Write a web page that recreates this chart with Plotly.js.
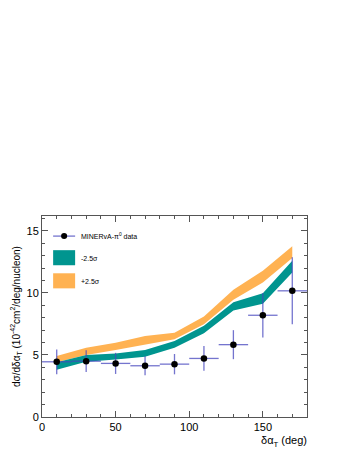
<!DOCTYPE html>
<html><head><meta charset="utf-8">
<script src="https://cdn.plot.ly/plotly-3.0.1.min.js"></script>
<style>html,body{margin:0;padding:0;background:#fff}#c{width:349px;height:451px}</style>
</head><body><div id="c"></div>
<script>
const xBins = [10, 30, 50, 70, 90, 110, 130, 150, 170];
const xHalfWidth = [10, 10, 10, 10, 10, 10, 10, 10, 10];
const dataY = [4.45, 4.5, 4.32, 4.13, 4.26, 4.72, 5.83, 8.2, 10.17];
const dataErr = [1.0, 0.87, 0.85, 0.77, 0.82, 1.0, 1.17, 1.8, 2.7];
const minusLow = [3.8, 4.45, 4.64, 4.86, 5.58, 6.76, 8.58, 9.12, 11.65];
const minusHigh = [4.42, 4.99, 5.12, 5.4, 6.12, 7.36, 9.25, 9.98, 12.6];
const plusLow = [4.42, 5.0, 5.39, 5.85, 6.26, 7.47, 9.44, 10.84, 12.81];
const plusHigh = [4.92, 5.58, 5.99, 6.53, 6.8, 8.09, 10.25, 11.79, 13.76];
const legendLabels = ["MINERvA-π<sup>0</sup> data", "-2.5σ", "+2.5σ"];

const teal = '#00958f', orange = '#ffb252', errC = 'rgba(70,70,190,0.75)';
const traces = [
  {x: xBins, y: plusLow, mode: 'lines', line: {width: 0, color: orange}, hoverinfo: 'skip', showlegend: false},
  {x: xBins, y: plusHigh, mode: 'lines', fill: 'tonexty', fillcolor: orange, line: {width: 0, color: orange}, showlegend: false},
  {x: xBins, y: minusLow, mode: 'lines', line: {width: 0, color: teal}, showlegend: false},
  {x: xBins, y: minusHigh, mode: 'lines', fill: 'tonexty', fillcolor: teal, line: {width: 0, color: teal}, showlegend: false},
  {x: xBins, y: dataY, mode: 'markers', marker: {color: '#000', size: 6.5},
   error_y: {type: 'data', array: dataErr, color: errC, thickness: 1.3, width: 0},
   error_x: {type: 'data', array: xHalfWidth, color: errC, thickness: 1.3, width: 0}, showlegend: false}
];
const f = {family: 'Liberation Sans, Arial, sans-serif', color: '#000'};
const layout = {
  width: 349, height: 451, paper_bgcolor: '#fff', plot_bgcolor: '#fff',
  margin: {l: 42, r: 42, t: 216, b: 34}, showlegend: false,
  font: Object.assign({size: 11}, f),
  xaxis: {range: [0, 180], tickvals: [0, 50, 100, 150], ticks: 'inside', ticklen: 6, tickcolor: '#555',
    showline: true, linecolor: '#555', mirror: 'allticks', showgrid: false, zeroline: false,
    minor: {dtick: 10, tick0: 0, ticks: 'inside', ticklen: 3, tickcolor: '#555', showgrid: false},
    tickfont: Object.assign({size: 11}, f),
    title: {text: 'δα<sub>T</sub> (deg)', font: Object.assign({size: 11}, f), standoff: 4}},
  yaxis: {range: [0, 16.2], tickvals: [0, 5, 10, 15], ticks: 'inside', ticklen: 6, tickcolor: '#555',
    showline: true, linecolor: '#555', mirror: 'allticks', showgrid: false, zeroline: false,
    minor: {dtick: 1, tick0: 0, ticks: 'inside', ticklen: 3, tickcolor: '#555', showgrid: false},
    tickfont: Object.assign({size: 11}, f),
    title: {text: 'dσ/dδα<sub>T</sub> (10<sup>-42</sup>cm<sup>2</sup>/deg/nucleon)', font: Object.assign({size: 10}, f), standoff: 4}},
  shapes: [
    {type: 'line', xref: 'paper', yref: 'paper', x0: 0.042, x1: 0.125, y0: 0.9, y1: 0.9, line: {color: errC, width: 1.3}},
    {type: 'circle', xref: 'paper', yref: 'paper', x0: 0.0835 - 0.0115, x1: 0.0835 + 0.0115, y0: 0.9 - 0.015, y1: 0.9 + 0.015, fillcolor: '#000', line: {width: 0}},
    {type: 'rect', xref: 'paper', yref: 'paper', x0: 0.042, x1: 0.125, y0: 0.755, y1: 0.83, fillcolor: teal, line: {width: 0}},
    {type: 'rect', xref: 'paper', yref: 'paper', x0: 0.042, x1: 0.125, y0: 0.64, y1: 0.715, fillcolor: orange, line: {width: 0}}
  ],
  annotations: [
    {xref: 'paper', yref: 'paper', x: 0.14, y: 0.9, xanchor: 'left', yanchor: 'middle', text: legendLabels[0], showarrow: false, font: Object.assign({size: 7}, f)},
    {xref: 'paper', yref: 'paper', x: 0.14, y: 0.79, xanchor: 'left', yanchor: 'middle', text: legendLabels[1], showarrow: false, font: Object.assign({size: 7}, f)},
    {xref: 'paper', yref: 'paper', x: 0.14, y: 0.675, xanchor: 'left', yanchor: 'middle', text: legendLabels[2], showarrow: false, font: Object.assign({size: 7}, f)}
  ]
};
Plotly.newPlot('c', traces, layout, {displayModeBar: false, staticPlot: true}).then(() => {
  const t = document.querySelector('.xtitle');
  if (t) { t.setAttribute('text-anchor', 'end'); t.setAttribute('x', 307); }
});
</script></body></html>
